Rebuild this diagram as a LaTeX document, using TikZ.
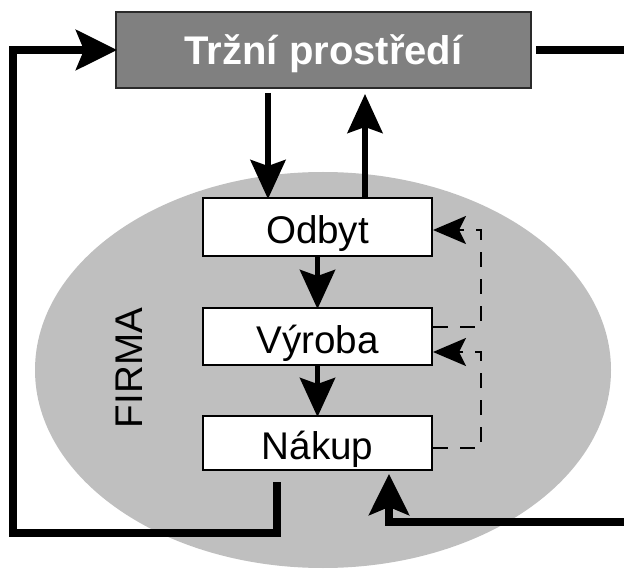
\documentclass[tikz,border=0pt]{standalone}
\usepackage{fontspec}
\setmainfont{Liberation Sans}
\usetikzlibrary{arrows.meta,calc}
\definecolor{envgray}{HTML}{808080}
\definecolor{envedge}{HTML}{2A2A2A}
\definecolor{firmgray}{HTML}{BFBFBF}
\tikzset{
  bigtip/.tip={Stealth[length=39pt,width=35pt,inset=6pt]},
  outtip/.tip={Stealth[length=41pt,width=40pt,inset=8pt]},
  dtip/.tip={Stealth[length=33pt,width=28pt,inset=7pt]},
}
\begin{document}
\begin{tikzpicture}[x=1pt,y=-1pt,
  txt/.style={font=\fontsize{38.6}{40}\selectfont},
  dept/.style={txt,draw=black,line width=2pt,fill=white,inner sep=0pt,
    minimum width=229pt,text height=33.5pt,text depth=0pt},
  envbox/.style={font=\bfseries\fontsize{40}{42}\selectfont,text=white,
    draw=envedge,line width=2pt,fill=envgray,inner sep=0pt,
    minimum width=415pt,minimum height=76pt,text height=30pt,text depth=0pt},
  inner/.style={line width=5.5pt},
  outer/.style={line width=7.5pt},
  dsh/.style={line width=2pt,dash pattern=on 15pt off 12pt},
]
\useasboundingbox (0,0) rectangle (624,569);

% the firm
\fill[firmgray] (323,370) ellipse [x radius=288pt, y radius=198pt];
\node[txt,rotate=90,inner sep=0pt,text height=27.6pt,text depth=0pt]
  (firma) at (129,368) {FIRMA};

% market environment and the three departments
\node[envbox] (top) at (323.5,50) {Tržní prostředí};
\node[dept,minimum height=58pt] (odb) at (317.5,227) {Odbyt};
\node[dept,minimum height=57pt] (vyr) at (317.5,336.5) {Výroba};
\node[dept,minimum height=54pt] (nak) at (317.5,443) {Nákup};

% helper coordinates for the connectors
\coordinate (xa) at (268,0);
\coordinate (xb) at (365,0);
\coordinate (xc) at (277,0);
\coordinate (xd) at (389,0);
\coordinate (xl) at (13,0);
\coordinate (dx) at (481,0);
\coordinate (ybot) at (0,533);
\coordinate (eR) at (628,50);
\coordinate (eB) at (628,522);

% environment <-> sales
\draw[inner,-bigtip] ($(top.south -| xa)+(0,4)$) -- ($(odb.north -| xa)+(0,2)$);
\draw[inner,-bigtip] (odb.north -| xb) -- ($(top.south -| xb)+(0,5)$);

% internal flow
\draw[inner,-bigtip] (odb.south) -- ($(vyr.north)+(0,2)$);
\draw[inner,-bigtip] (vyr.south) -- ($(nak.north)+(0,2)$);

% feedback (dashed)
\draw[dsh,-dtip] ([yshift=9.5pt]vyr.east) -- ([yshift=9.5pt]vyr.east -| dx)
  -- ([yshift=-3pt]odb.east -| dx) -- ([yshift=-3pt]odb.east);
\draw[dsh,-dtip] ([yshift=-5pt]nak.east) -- ([yshift=-5pt]nak.east -| dx)
  -- ([yshift=-15.5pt]vyr.east -| dx) -- ([yshift=-15.5pt]vyr.east);

% purchasing -> environment loop
\draw[outer,-outtip] ($(nak.south -| xc)+(0,11)$) -- (xc |- ybot)
  -- (xl |- ybot) -- (xl |- top.west) -- ($(top.west)+(2,0)$);

% outside links
\draw[outer] ($(top.east)+(4,0)$) -- (eR);
\draw[outer,-outtip] (eB) -- (eB -| xd) -- ($(nak.south -| xd)+(0,3)$);
\end{tikzpicture}
\end{document}
